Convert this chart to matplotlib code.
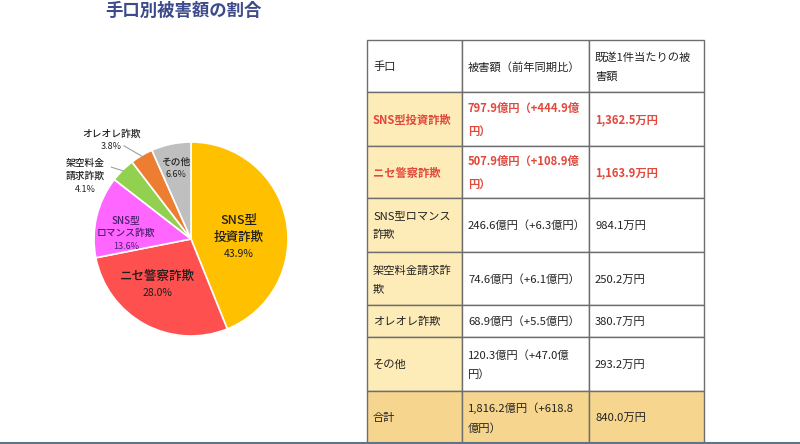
import numpy as np
import matplotlib.pyplot as plt

plt.rcParams['font.family'] = ['Noto Sans CJK JP', 'DejaVu Sans']

# Pie data
slice_names = ['SNS型\n投資詐欺', 'ニセ警察詐欺', 'SNS型\nロマンス詐欺',
               '架空料金\n請求詐欺', 'オレオレ詐欺', 'その他']
slice_shares = [43.9, 28.0, 13.6, 4.1, 3.8, 6.6]
slice_colors = ['#FFC000', '#FF5050', '#FF66FF', '#92D050', '#ED7D31', '#BFBFBF']

# Table data
header = ['手口', '被害額（前年同期比）', '既遂1件当たりの被\n害額']
row_names = ['SNS型投資詐欺', 'ニセ警察詐欺', 'SNS型ロマンス\n詐欺',
             '架空料金請求詐\n欺', 'オレオレ詐欺', 'その他', '合計']
row_damage = ['797.9億円（+444.9億\n円）', '507.9億円（+108.9億\n円）',
              '246.6億円（+6.3億円）', '74.6億円（+6.1億円）',
              '68.9億円（+5.5億円）', '120.3億円（+47.0億\n円）',
              '1,816.2億円（+618.8\n億円）']
row_per_case = ['1,362.5万円', '1,163.9万円', '984.1万円', '250.2万円',
                '380.7万円', '293.2万円', '840.0万円']
highlight_rows = [0, 1]

W, H = 800, 444
fig = plt.figure(figsize=(8, 4.44), dpi=100)

# page layer in pixel coordinates
ax = fig.add_axes([0, 0, 1, 1])
ax.set_xlim(0, W)
ax.set_ylim(H, 0)
ax.axis('off')

ax.text(183, 11, '手口別被害額の割合', ha='center', va='center',
        fontsize=12.5, fontweight='bold', color='#3D4A8C')
ax.plot([0, W], [443, 443], color='#5F7485', lw=1.5)

# pie
cx, cy, r = 191, 239, 97
pax = fig.add_axes([(cx - r) / W, (H - cy - r) / H, 2 * r / W, 2 * r / H])
wedges, _ = pax.pie(slice_shares, colors=slice_colors, startangle=90,
                    counterclock=False,
                    wedgeprops=dict(edgecolor='white', linewidth=1.2))
pax.set_xlim(-1, 1)
pax.set_ylim(-1, 1)
pax.axis('off')

label_pos = [(0.49, 0.02), (-0.35, -0.47), (-0.67, 0.06),
             (-1.09, 0.65), (-0.82, 1.02), (-0.16, 0.73)]
label_size = [9, 9, 7, 7, 7, 7]
label_color = ['#1E1E1E', '#1E1E1E', '#4B1F6E', '#222222', '#222222', '#222222']
leader_start = {3: (-0.82, 0.74), 4: (-0.69, 0.96)}

for i, w in enumerate(wedges):
    name = slice_names[i]
    pct = f'{slice_shares[i]:.1f}%'
    x, y = label_pos[i]
    fs = label_size[i]
    lines = name.split('\n')
    n = len(lines) + 1
    # big labels get more room between lines
    step = 0.17 if i < 2 else 0.135
    top = y + step * (n - 1) / 2
    for k, ln in enumerate(lines):
        pax.text(x, top - k * step, ln, ha='center', va='center',
                 fontsize=fs, color=label_color[i], clip_on=False,
                 fontweight='medium')
    pax.text(x, top - (n - 1) * step, pct, ha='center', va='center',
             fontsize=7.5 if i < 2 else 6.5, color=label_color[i],
             clip_on=False)
    if i in leader_start:
        ang = np.deg2rad((w.theta1 + w.theta2) / 2)
        x0, y0 = leader_start[i]
        pax.plot([x0, 0.99 * np.cos(ang)], [y0, 0.99 * np.sin(ang)],
                 color='#A0A0A0', lw=0.8, clip_on=False)

# table
col_x = [367, 462, 589, 704]
row_y = [40, 92, 146, 198, 252, 305, 337, 391, 443]
name_bg = '#FDEBB8'
total_bg = '#F6D68F'
red = '#E0493C'
pad = 6

cells = [header] + [[row_names[i], row_damage[i], row_per_case[i]]
                    for i in range(len(row_names))]
n_rows = len(cells)
for ri in range(n_rows):
    y0, y1 = row_y[ri], row_y[ri + 1]
    for ci in range(3):
        x0, x1 = col_x[ci], col_x[ci + 1]
        if ri == n_rows - 1:
            bg = total_bg
        elif ri > 0 and ci == 0:
            bg = name_bg
        else:
            bg = 'white'
        ax.add_patch(plt.Rectangle((x0, y0), x1 - x0, y1 - y0,
                                   facecolor=bg, edgecolor='#6E6E6E', lw=1))
        is_red = ri - 1 in highlight_rows
        ax.text(x0 + pad, (y0 + y1) / 2 + 1, cells[ri][ci], ha='left',
                va='center', fontsize=8.1, linespacing=2.0,
                color=red if is_red else '#222222',
                fontweight='bold' if is_red else 'normal')

fig.savefig('out.png', dpi=100)
